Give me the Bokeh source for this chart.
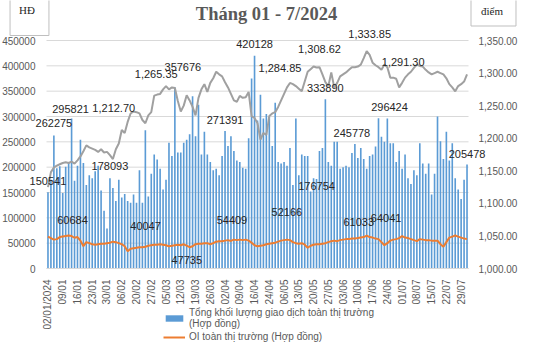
import math
from bokeh.plotting import figure
from bokeh.models import (Range1d, LinearAxis, FixedTicker, ColumnDataSource, Label,
                          Legend, LegendItem, NumeralTickFormatter)
from bokeh.embed import file_html
from bokeh.resources import INLINE

# ---------------- data ----------------
volume = [150541, 175000, 262275, 198000, 202000, 149000, 201000, 208000, 295821, 173000,
          203000, 254000, 208000, 165000, 184000, 178000, 192000, 203000, 154000, 114000,
          79000, 178093, 159000, 133000, 175000, 140000, 147000, 133000, 130000, 146000,
          130000, 194000, 130000, 273000, 142000, 187000, 225000, 215000, 197000, 156000,
          175000, 248000, 222000, 357676, 229000, 229000, 248000, 254000, 265000, 340000,
          261000, 323000, 225000, 270000, 225000, 210000, 194000, 197000, 184000, 222000,
          271391, 242000, 261000, 232000, 213000, 210000, 199000, 197000, 257000, 375000,
          420128, 292000, 343000, 296000, 305000, 299000, 242000, 327000, 210000, 207000,
          210000, 203000, 238000, 165000, 296000, 184000, 225000, 222000, 222000, 152000,
          178000, 176754, 232000, 238000, 333890, 210000, 203000, 250000, 250000, 197000,
          200000, 203000, 200000, 228000, 245778, 218000, 238000, 216000, 197000, 222000,
          225000, 241000, 296424, 260000, 250000, 296000, 247000, 247000, 210000, 232000,
          197000, 225000, 178000, 167000, 194000, 184000, 247000, 207000, 187000, 207000,
          146000, 187000, 300000, 251000, 216000, 270000, 213000, 247000, 178000, 156000,
          137000, 175000, 205478]

oi = [63000, 60000, 57000, 58000, 62000, 63000, 64000, 65000, 64000, 60684,
      62000, 55000, 44000, 52000, 50000, 48000, 47000, 48000, 49000, 49000,
      50000, 51000, 53000, 52000, 50000, 48000, 44000, 34000, 39000, 40047,
      41000, 42000, 42000, 43000, 45000, 46000, 47000, 47000, 48000, 47000,
      46000, 44000, 45000, 46000, 47000, 46000, 47735, 45000, 42000, 44000,
      48000, 49000, 49000, 50000, 50000, 48000, 50000, 53000, 54000, 54000,
      55000, 56000, 54409, 57000, 56000, 57000, 56000, 57000, 55000, 51000,
      46000, 44000, 45000, 46000, 48000, 49000, 50000, 51000, 53000, 55000,
      56000, 57000, 56000, 52166, 50000, 49000, 50000, 47000, 41000, 45000,
      47000, 48000, 48000, 49000, 50000, 52000, 54000, 55000, 54000, 56000,
      57000, 58000, 58000, 59000, 59000, 60000, 61033, 62000, 65000, 62000,
      61000, 59000, 58000, 52000, 46000, 50000, 55000, 57000, 58000, 60000,
      64041, 61000, 60000, 58000, 56000, 54000, 58000, 57000, 56000, 56000,
      55000, 55000, 55000, 48000, 43000, 52000, 61000, 63000, 65000, 63000,
      61000, 59000, 58000]

index_pts = [1125, 1148, 1155, 1158, 1160, 1162, 1163, 1162, 1164, 1161,
             1166, 1172, 1180, 1189, 1186, 1184, 1182, 1179, 1183, 1178,
             1179, 1174, 1168, 1183, 1192, 1212.70, 1208, 1225, 1238, 1241,
             1240, 1238, 1228, 1223, 1235, 1240, 1265.35, 1267, 1268, 1275,
             1280, 1275, 1278, 1277, 1257, 1241, 1250, 1266, 1258, 1248,
             1235, 1262, 1275, 1283, 1271, 1285, 1292, 1302, 1298, 1295,
             1286, 1278, 1268, 1258, 1256, 1265, 1262, 1263, 1271, 1234,
             1231, 1223, 1198, 1208, 1205, 1234, 1238, 1240, 1248, 1258,
             1268, 1278, 1284.85, 1283, 1280, 1276, 1272, 1287, 1302, 1306,
             1310, 1308.62, 1309, 1298, 1286, 1280, 1301, 1278, 1285, 1295,
             1298, 1301, 1305, 1309, 1309, 1310, 1313, 1323, 1333.85, 1328,
             1316, 1312, 1309, 1305, 1313, 1309, 1293, 1293, 1291.30, 1278,
             1285, 1293, 1298, 1302, 1308, 1313, 1311, 1310, 1305, 1301,
             1298, 1300, 1302, 1300, 1298, 1292, 1283, 1278, 1272, 1280,
             1283, 1287, 1298]

tick_labels = ["02/01/2024", "09/01", "16/01", "23/01", "30/01", "06/02", "20/02", "27/02",
               "05/03", "12/03", "19/03", "26/03", "02/04", "09/04", "16/04", "24/04",
               "06/05", "13/05", "20/05", "27/05", "03/06", "10/06", "17/06", "24/06",
               "01/07", "08/07", "15/07", "22/07", "29/07"]
tick_step = 5
left_ticks = [0, 50000, 100000, 150000, 200000, 250000, 300000, 350000, 400000, 450000]
right_ticks = [1000, 1050, 1100, 1150, 1200, 1250, 1300, 1350]

# which points carry a value label
bar_label_idx = [0, 2, 8, 21, 43, 60, 70, 91, 94, 104, 112, 142]
oi_label_idx = [9, 29, 46, 62, 83, 106, 120]
index_label_idx = [25, 36, 82, 91, 108, 118]

# label offsets in pixels (dx right, dy down) -- layout only
bar_off = [(0, -11), (0, -13), (-1, -10), (0, -12), (8, -20), (0, -11), (0, -12),
           (0, 7), (0, -11), (-3, -11), (11, -11), (0, -10)]
oi_off = [(-2, -18), (12, -22), (3, 16), (1, -21), (-6, -30), (-2, -16), (-16, -18)]
index_off = [(-8, -22), (2, -22), (-10, -15), (3, -18), (3, -17), (7, -17)]

# ---------------- layout (canvas pixels) ----------------
W, H = 524, 344
PX_L, PX_R = 46, 468        # plot area left / right edge on the canvas
PY_TOP, PY_BOT = 40, 268    # canvas rows of 450000 / 0

n = len(volume)
xs = list(range(n))
x_per_px = n / (PX_R - PX_L)
x0 = -0.5 - PX_L * x_per_px
x1 = -0.5 + (W - PX_L) * x_per_px
y_per_px = left_ticks[-1] / (PY_BOT - PY_TOP)
y0 = -(H - PY_BOT) * y_per_px
y1 = left_ticks[-1] + PY_TOP * y_per_px
r_lo, r_hi = right_ticks[0], right_ticks[-1]
r_per_px = (r_hi - r_lo) / (PY_BOT - PY_TOP)
r0 = r_lo - (H - PY_BOT) * r_per_px
r1 = r_hi + PY_TOP * r_per_px

src = ColumnDataSource(dict(x=xs, vol=volume, oi=oi, idx=index_pts))

FONT = "Liberation Sans"
GREY_TXT = "#595959"

p = figure(width=W, height=H, output_backend="svg", toolbar_location=None,
           x_range=Range1d(x0, x1), y_range=Range1d(y0, y1),
           min_border=0)
p.outline_line_color = None
p.background_fill_color = "white"
p.border_fill_color = "white"
p.extra_y_ranges = {"idx": Range1d(r0, r1)}
p.xgrid.visible = False
p.ygrid.visible = False

# horizontal gridlines at the left-axis ticks, limited to the plot area
p.segment(x0=[-0.5] * len(left_ticks), x1=[n - 0.5] * len(left_ticks),
          y0=left_ticks, y1=left_ticks, line_color="#D9D9D9", line_width=1)

# left axis
ya = p.yaxis[0]
ya.fixed_location = -0.5
ya.ticker = FixedTicker(ticks=left_ticks)
ya.formatter = NumeralTickFormatter(format="0")
ya.axis_line_color = None
ya.major_tick_line_color = None
ya.minor_tick_line_color = None
ya.major_label_text_font = FONT
ya.major_label_text_font_size = "10px"
ya.major_label_text_color = GREY_TXT
ya.major_label_standoff = 5

# right axis
ra = LinearAxis(y_range_name="idx", fixed_location=n - 0.5,
                ticker=FixedTicker(ticks=right_ticks),
                formatter=NumeralTickFormatter(format="0,0.00"))
ra.axis_line_color = None
ra.major_tick_line_color = None
ra.minor_tick_line_color = None
ra.major_label_text_font = FONT
ra.major_label_text_font_size = "10px"
ra.major_label_text_color = GREY_TXT
ra.major_label_standoff = 4
p.add_layout(ra, "right")

# x axis
xa = p.xaxis[0]
xa.fixed_location = 0
xa.bounds = (-0.5, n - 0.5)
xticks = [i * tick_step for i in range(len(tick_labels))]
xa.ticker = FixedTicker(ticks=xticks)
xa.major_label_overrides = {t: lab for t, lab in zip(xticks, tick_labels)}
xa.major_label_orientation = math.pi / 2
xa.major_label_text_font = FONT
xa.major_label_text_font_size = "10px"
xa.major_label_text_color = GREY_TXT
xa.major_label_standoff = 5
xa.axis_line_color = "#D9D9D9"
xa.major_tick_line_color = None
xa.minor_tick_line_color = None

# glyphs
bars = p.vbar(x="x", top="vol", width=0.55, source=src,
              fill_color="#5B9BD5", line_color=None)
idx_line = p.line("x", "idx", source=src, y_range_name="idx",
                  line_color="#A0A0A0", line_width=2)
oi_line = p.line("x", "oi", source=src, line_color="#ED7D31", line_width=2)

# data labels
def add_lbl(xv, yv, txt, off, rng="default"):
    p.add_layout(Label(x=xv, y=yv, text=txt, x_offset=off[0], y_offset=-off[1],
                       y_range_name=rng, text_align="center", text_baseline="middle",
                       text_font=FONT, text_font_size="11px", text_color="#262626"))

for i, off in zip(bar_label_idx, bar_off):
    add_lbl(xs[i], volume[i], str(volume[i]), off)
for i, off in zip(oi_label_idx, oi_off):
    add_lbl(xs[i], oi[i], str(oi[i]), off)
for i, off in zip(index_label_idx, index_off):
    add_lbl(xs[i], index_pts[i], "{:,.2f}".format(index_pts[i]), off, "idx")

# title and unit boxes (screen units, origin bottom-left of the canvas)
p.add_layout(Label(x=266, y=H - 13, x_units="screen", y_units="screen",
                   text="Tháng 01 - 7/2024", text_align="center", text_baseline="middle",
                   text_font="Liberation Serif", text_font_style="bold",
                   text_font_size="18.5px", text_color="#595959"))
p.add_layout(Label(x=29, y=H - 12, x_units="screen", y_units="screen", text="HĐ",
                   text_align="center", text_baseline="middle",
                   text_font="Liberation Serif", text_font_size="11px", text_color="#262626",
                   border_line_color="#BFBFBF", background_fill_color="white",
                   padding=dict(left=9, right=14, top=14, bottom=20)))
p.add_layout(Label(x=493, y=H - 9, x_units="screen", y_units="screen", text="điểm",
                   text_align="center", text_baseline="middle",
                   text_font="Liberation Serif", text_font_size="11px", text_color="#262626",
                   border_line_color="#BFBFBF", background_fill_color="white",
                   padding=dict(left=10, right=13, top=12, bottom=9)))

# legend below the plot area
legend = Legend(items=[
    LegendItem(label="Tổng khối lượng giao dịch toàn thị trường\n(Hợp đồng)", renderers=[bars]),
    LegendItem(label="OI toàn thị trường (Hợp đồng)", renderers=[oi_line]),
], location=(163, 2))
legend.border_line_color = None
legend.background_fill_alpha = 0
legend.padding = 0
legend.margin = 0
legend.spacing = 2
legend.glyph_width = 22
legend.glyph_height = 8
legend.label_text_font = FONT
legend.label_text_font_size = "10px"
legend.label_text_color = GREY_TXT
legend.label_standoff = 4
p.add_layout(legend)

open("out.html", "w").write(file_html(p, INLINE))
